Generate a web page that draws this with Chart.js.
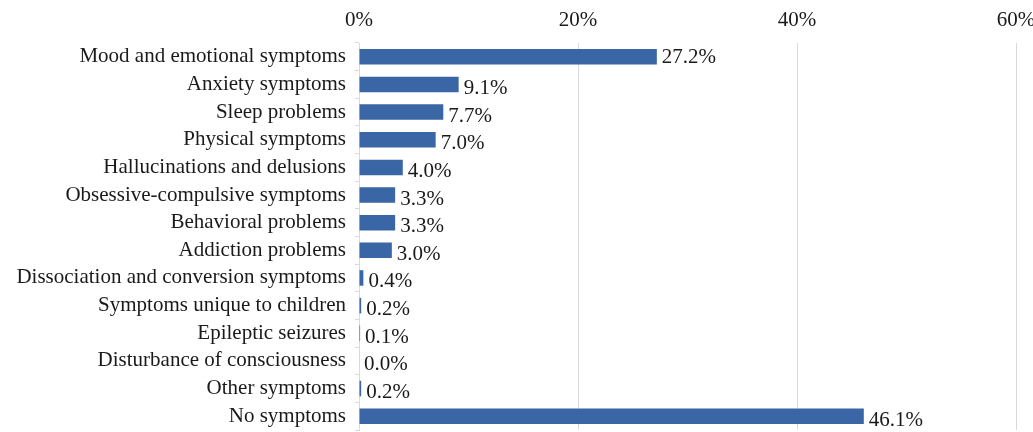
<!DOCTYPE html>
<html>
<head>
<meta charset="utf-8">
<script src="https://cdn.jsdelivr.net/npm/chart.js@4"></script>
<style>
html,body{margin:0;padding:0;background:#fff;}
#wrap{width:1033px;height:432px;position:relative;}
</style>
</head>
<body>
<div id="wrap"><canvas id="c" width="1033" height="432"></canvas></div>
<script>
const categories = [
  "Mood and emotional symptoms",
  "Anxiety symptoms",
  "Sleep problems",
  "Physical symptoms",
  "Hallucinations and delusions",
  "Obsessive-compulsive symptoms",
  "Behavioral problems",
  "Addiction problems",
  "Dissociation and conversion symptoms",
  "Symptoms unique to children",
  "Epileptic seizures",
  "Disturbance of consciousness",
  "Other symptoms",
  "No symptoms"
];
const values = [27.2, 9.1, 7.7, 7.0, 4.0, 3.3, 3.3, 3.0, 0.4, 0.2, 0.1, 0.0, 0.2, 46.1];
const xTicks = [0, 20, 40, 60];

const FONT = "'Liberation Serif', 'Times New Roman', serif";

const valueLabels = {
  id: 'valueLabels',
  afterDatasetsDraw(chart) {
    const ctx = chart.ctx;
    const meta = chart.getDatasetMeta(0);
    ctx.save();
    ctx.font = "21px " + FONT;
    ctx.fillStyle = "#1a1a1a";
    ctx.textBaseline = "middle";
    ctx.textAlign = "left";
    meta.data.forEach((bar, i) => {
      const v = values[i];
      ctx.fillText(v.toFixed(1) + "%", bar.x + 5, bar.y + (i === 0 ? 1 : 4));
    });
    ctx.restore();
  }
};

new Chart(document.getElementById('c'), {
  type: 'bar',
  data: {
    labels: categories,
    datasets: [{
      data: values,
      backgroundColor: '#3A66A5',
      borderWidth: 0,
      barPercentage: 0.56,
      categoryPercentage: 1.0
    }]
  },
  options: {
    indexAxis: 'y',
    responsive: false,
    animation: false,
    devicePixelRatio: 1,
    layout: { padding: { left: 0, right: 17, top: 0, bottom: 2 } },
    plugins: { legend: { display: false }, tooltip: { enabled: false } },
    scales: {
      x: {
        position: 'top',
        min: 0, max: 60,
        afterBuildTicks(scale) { scale.ticks = xTicks.map(v => ({ value: v })); },
        afterFit(scale) { scale.height = 43; scale.paddingLeft = 0; scale.paddingRight = 0; },
        ticks: {
          callback: v => v + '%',
          font: { family: FONT, size: 21 },
          color: '#1a1a1a',
          padding: 10
        },
        grid: { color: '#d9d9d9', lineWidth: 1, drawTicks: false },
        border: { display: false }
      },
      y: {
        afterFit(scale) { scale.width = 359; scale.paddingTop = 0; scale.paddingBottom = 0; },
        ticks: {
          autoSkip: false,
          font: { family: FONT, size: 21 },
          color: '#1a1a1a',
          padding: 9
        },
        grid: { offset: true, drawOnChartArea: false, color: '#d9d9d9', tickLength: 4 },
        border: { display: true, color: '#d9d9d9' }
      }
    }
  },
  plugins: [valueLabels]
});
</script>
</body>
</html>
